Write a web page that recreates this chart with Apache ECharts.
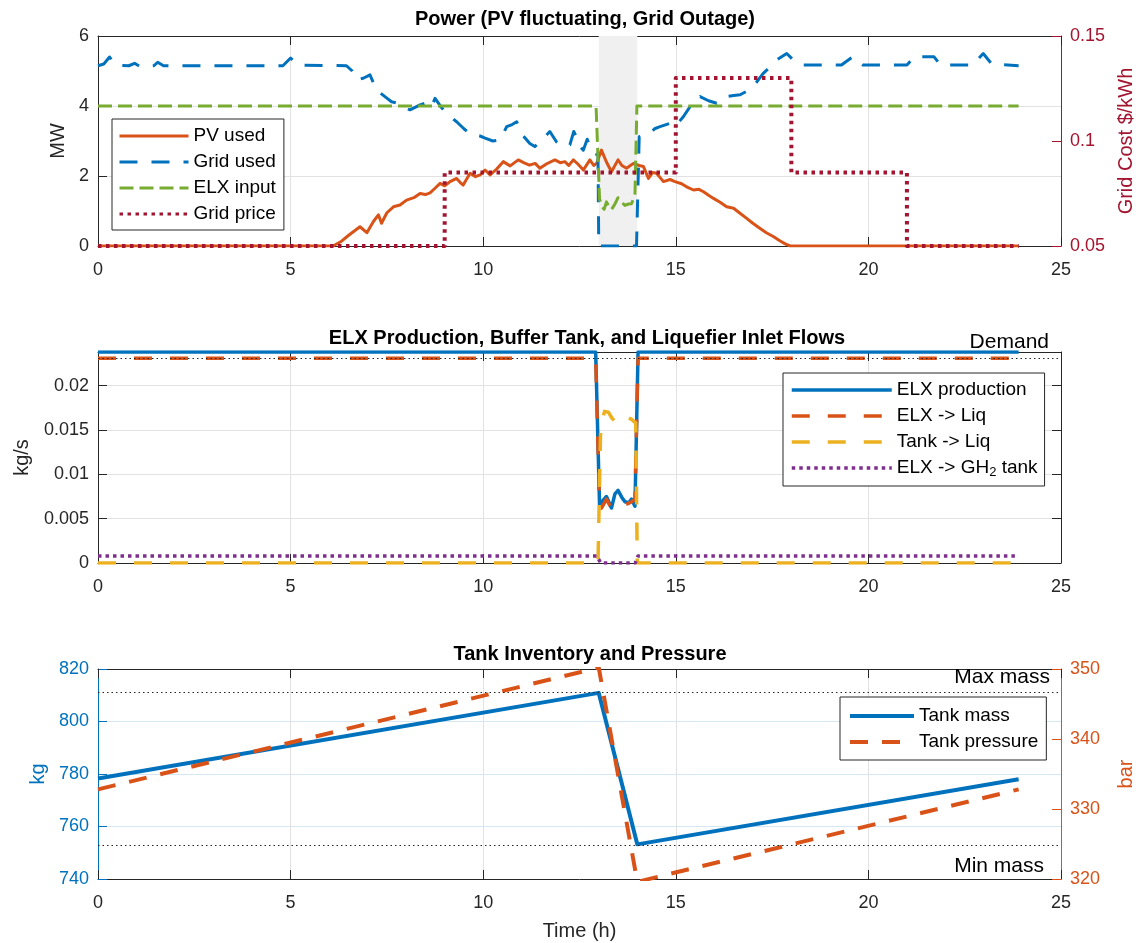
<!DOCTYPE html>
<html>
<head>
<meta charset="utf-8">
<script src="https://cdn.jsdelivr.net/npm/echarts@6/dist/echarts.min.js"></script>
<style>
html,body{margin:0;padding:0;background:#fff;}
#chart{width:1141px;height:943px;}
</style>
</head>
<body>
<div id="chart"></div>
<script>
// ---------------- DATA ----------------
// Panel 1: Power
const outageWindow = [13, 14];
const pvTime = [0, 6.1, 6.3, 6.5, 6.8, 6.98, 7.15, 7.28, 7.36, 7.5, 7.67, 7.84, 8.01, 8.2, 8.36, 8.5, 8.62, 8.75, 8.88, 9.0, 9.14, 9.31, 9.4, 9.48, 9.66, 9.8, 9.92, 10.05, 10.18, 10.35, 10.52, 10.7, 10.91, 11.05, 11.2, 11.35, 11.47, 11.65, 11.86, 12.0, 12.12, 12.22, 12.34, 12.45, 12.6, 12.77, 12.87, 12.95, 13.07, 13.2, 13.33, 13.5, 13.6, 13.72, 13.9, 14.05, 14.16, 14.29, 14.4, 14.5, 14.68, 14.85, 14.98, 15.15, 15.28, 15.46, 15.6, 15.72, 15.85, 15.98, 16.15, 16.32, 16.5, 16.65, 16.84, 17.0, 17.19, 17.35, 17.53, 17.7, 17.84, 17.97, 23.9];
const pvUsed = [0, 0, 0.12, 0.3, 0.55, 0.38, 0.7, 0.89, 0.65, 0.95, 1.12, 1.17, 1.31, 1.38, 1.5, 1.47, 1.52, 1.65, 1.79, 1.72, 1.84, 1.93, 1.82, 1.74, 2.08, 1.98, 2.03, 2.17, 2.03, 2.2, 2.41, 2.29, 2.46, 2.38, 2.31, 2.36, 2.22, 2.35, 2.46, 2.38, 2.41, 2.3, 2.46, 2.35, 2.17, 2.46, 2.3, 2.37, 2.74, 2.4, 2.12, 2.46, 2.3, 2.22, 2.36, 2.3, 2.27, 1.93, 2.1, 2.08, 1.84, 1.9, 1.84, 1.78, 1.69, 1.6, 1.62, 1.55, 1.45, 1.36, 1.25, 1.12, 1.08, 0.95, 0.79, 0.65, 0.5, 0.38, 0.27, 0.15, 0.06, 0, 0];
const gridTime = [0, 0.15, 0.3, 0.45, 0.8, 0.95, 1.1, 1.45, 1.55, 1.7, 4.8, 5.0, 5.2, 6.45, 6.6, 6.72, 6.9, 7.06, 7.23, 7.49, 7.62, 7.8, 7.95, 8.1, 8.36, 8.55, 8.66, 8.75, 8.9, 9.05, 9.31, 9.5, 9.7, 9.9, 10.05, 10.25, 10.44, 10.61, 10.75, 10.87, 11.0, 11.21, 11.34, 11.5, 11.73, 11.9, 12.08, 12.25, 12.35, 12.42, 12.5, 12.6, 12.7, 12.8, 12.9, 12.98, 13.0, 13.98, 14.05, 14.33, 14.45, 14.59, 14.84, 14.98, 15.2, 15.37, 15.63, 15.85, 16.06, 16.32, 16.5, 16.67, 16.97, 17.27, 17.45, 17.6, 17.88, 18.14, 18.3, 19.3, 19.6, 19.86, 21.0, 21.2, 21.7, 21.87, 22.7, 22.98, 23.2, 23.9];
const gridUsed = [5.15, 5.2, 5.4, 5.17, 5.15, 5.22, 5.12, 5.15, 5.25, 5.15, 5.15, 5.37, 5.17, 5.15, 5.0, 4.74, 4.8, 4.89, 4.46, 4.23, 4.12, 4.08, 3.95, 3.89, 4.03, 4.1, 3.98, 4.22, 3.98, 3.79, 3.55, 3.35, 3.17, 3.15, 3.08, 3.0, 3.03, 3.41, 3.47, 3.55, 3.2, 2.93, 2.84, 3.0, 3.27, 2.98, 2.84, 2.89, 3.27, 3.12, 2.85, 2.74, 3.05, 2.75, 2.64, 2.6, 0, 0, 3.12, 3.22, 3.35, 3.41, 3.5, 3.41, 3.7, 3.98, 4.27, 4.15, 4.08, 4.27, 4.3, 4.32, 4.5, 4.93, 5.12, 5.3, 5.5, 5.22, 5.17, 5.17, 5.41, 5.17, 5.17, 5.41, 5.41, 5.17, 5.17, 5.5, 5.2, 5.15];
const elxInTime = [0, 12.93, 13.02, 13.07, 13.14, 13.2, 13.27, 13.33, 13.42, 13.5, 13.6, 13.68, 13.77, 13.85, 13.94, 13.99, 23.9];
const elxInput = [4, 4, 1.35, 1.15, 1.05, 1.26, 1.12, 1.04, 1.2, 1.38, 1.25, 1.16, 1.2, 1.21, 1.45, 4, 4];
const priceTime = [0, 9, 9, 15, 15, 18, 18, 21, 21, 23.9];
const gridPrice = [0.05, 0.05, 0.085, 0.085, 0.13, 0.13, 0.085, 0.085, 0.05, 0.05];

// Panel 2: Flows (kg/s)
const prodTime = [0, 12.92, 13.02, 13.07, 13.2, 13.33, 13.42, 13.5, 13.6, 13.68, 13.78, 13.85, 13.94, 14.02, 23.9];
const elxProduction = [0.0238, 0.0238, 0.0066, 0.0064, 0.0075, 0.0062, 0.0078, 0.0082, 0.0074, 0.0069, 0.0068, 0.0072, 0.0064, 0.0238, 0.0238];
const liqTime = [0, 12.92, 13.02, 13.07, 13.15, 13.2, 13.3, 13.45, 13.55, 13.7, 13.85, 13.94, 14.02, 23.9];
const elxToLiq = [0.0231, 0.0231, 0.0065, 0.0062, 0.0068, 0.0072, 0.0064, 0.0068, 0.0069, 0.0066, 0.0069, 0.0072, 0.0231, 0.0231];
const tankLiqTime = [0, 12.98, 13.05, 13.15, 13.25, 13.35, 13.46, 13.6, 13.72, 13.85, 13.96, 14.0, 23.9];
const tankToLiq = [0, 0, 0.0154, 0.0171, 0.017, 0.0163, 0.0158, 0.0162, 0.0165, 0.0162, 0.0158, 0, 0];
const gh2Time = [0, 12.95, 13.05, 13.95, 14.02, 23.9];
const elxToGH2 = [0.0008, 0.0008, 0, 0, 0.0008, 0.0008];
const demandFlow = 0.0231;

// Panel 3: Tank
const tankTime = [0, 13, 14, 23.9];
const tankMass = [778.3, 810.9, 753.2, 778];
const tankPressure = [332.8, 350.2, 319.6, 332.8];
const maxMass = 811;
const minMass = 753;

// Axis ranges [min, max, interval]
const timeRange = [0, 25, 5];
const powerRange = [0, 6, 2];
const priceRange = [0.05, 0.15, 0.05];
const flowRange = [0, 0.0238, 0.005];
const massRange = [740, 820, 20];
const pressureRange = [320, 350, 10];

// ---------------- STYLE ----------------
const FONT = '"Liberation Sans", Arial, Helvetica, sans-serif';
const C = {blue:'#0072BD', orange:'#D95319', yellow:'#EDB120', purple:'#7E2F8E', green:'#77AC30', red:'#A2142F', axis:'#262626', grid:'#e2e2e2', gridBlue:'#d6e7f4'};
const grids = [
  {left:98, right:80, top:36, height:210, outerBoundsMode:'none', containLabel:false},
  {left:98, right:80, top:352, height:211, outerBoundsMode:'none', containLabel:false},
  {left:98, right:80, top:669, height:210, outerBoundsMode:'none', containLabel:false}
];
function pairs(t, v){ return t.map((x,i)=>[x, v[i]]); }

function xBottom(g, extra){
  return Object.assign({type:'value', gridIndex:g, position:'bottom', min:timeRange[0], max:timeRange[1], interval:timeRange[2],
    axisLine:{show:true, onZero:false, lineStyle:{color:C.axis, width:1}},
    axisTick:{show:true, inside:true, length:9, lineStyle:{color:C.axis}},
    axisLabel:{fontSize:18, color:C.axis, margin:15, fontFamily:FONT},
    splitLine:{show:true, lineStyle:{color:C.grid, width:1}}}, extra||{});
}
function xTop(g){
  return {type:'value', gridIndex:g, position:'top', min:timeRange[0], max:timeRange[1], interval:timeRange[2],
    axisLine:{show:true, onZero:false, lineStyle:{color:C.axis, width:1}},
    axisTick:{show:true, inside:true, length:9, lineStyle:{color:C.axis}},
    axisLabel:{show:false}, splitLine:{show:false}};
}
function yAxis(g, pos, range, color, name, gap, split, splitColor, labelsOn){
  const ratio = range[1] / range[2];
  return {type:'value', gridIndex:g, position:pos, min:range[0], max:range[1], interval:range[2],
    name:name||'', nameLocation:'middle', nameRotate:90, nameGap:gap||0,
    nameTextStyle:{fontSize:20, color:color, fontFamily:FONT},
    axisLine:{show:true, onZero:false, lineStyle:{color:color, width:1}},
    axisTick:{show:true, inside:true, length:9, lineStyle:{color:color}},
    axisLabel:{show:labelsOn!==false, fontSize:18, color:color, margin:9, fontFamily:FONT,
      showMaxLabel: Math.abs(ratio - Math.round(ratio)) < 1e-6},
    splitLine:{show:!!split, lineStyle:{color:splitColor||C.grid, width:1}}};
}
function lineSeries(name, xi, yi, data, color, width, type, extra){
  return Object.assign({name:name, type:'line', xAxisIndex:xi, yAxisIndex:yi, data:data, symbol:'none',
    animation:false, lineStyle:{color:color, width:width, type:type||'solid', cap:'butt', join:'round'},
    itemStyle:{color:color}}, extra||{});
}
function legendCfg(names, left, top, itemWidth, pad, lw){
  return {data:names, orient:'vertical', left:left, top:top, itemWidth:itemWidth, itemHeight:14, itemGap:6,
    padding:pad, backgroundColor:'#fff', borderColor:'#262626', borderWidth:1, borderRadius:0,
    itemStyle:{opacity:0}, lineStyle:{width:lw},
    textStyle:{fontSize:19, color:'#000', fontFamily:FONT, lineHeight:20,
      rich:{sub:{fontSize:13, fontFamily:FONT, color:'#000', padding:[9,0,0,0]}}},
    formatter:function(n){ return n === 'ELX -> GH2 tank' ? 'ELX -> GH{sub|2} tank' : n; },
    selectedMode:false};
}
const dotted = [1.5, 3];
function refLabel(text, pos, dist){
  return {show:true, position:pos, distance:dist, formatter:text, fontSize:21, color:'#000', fontFamily:FONT, padding:[0,6,0,0]};
}

const option = {
  backgroundColor:'#fff',
  animation:false,
  textStyle:{fontFamily:FONT},
  title:[
    {text:'Power (PV fluctuating, Grid Outage)', left:580, top:4, textAlign:'center', textStyle:{fontSize:20, fontWeight:'bold', color:'#000', fontFamily:FONT}},
    {text:'ELX Production, Buffer Tank, and Liquefier Inlet Flows', left:582, top:323, textAlign:'center', textStyle:{fontSize:20, fontWeight:'bold', color:'#000', fontFamily:FONT}},
    {text:'Tank Inventory and Pressure', left:585, top:639, textAlign:'center', textStyle:{fontSize:20, fontWeight:'bold', color:'#000', fontFamily:FONT}}
  ],
  grid:grids,
  xAxis:[
    xBottom(0), xTop(0),
    xBottom(1), xTop(1),
    xBottom(2, {name:'Time (h)', nameLocation:'middle', nameGap:42, nameTextStyle:{fontSize:20, color:C.axis, fontFamily:FONT}}), xTop(2)
  ],
  yAxis:[
    yAxis(0, 'left', powerRange, C.axis, 'MW', 22, true),
    yAxis(0, 'right', priceRange, C.red, 'Grid Cost $/kWh', 55, false),
    yAxis(1, 'left', flowRange, C.axis, 'kg/s', 66, true),
    yAxis(1, 'right', flowRange, C.axis, '', 0, false, null, false),
    yAxis(2, 'left', massRange, C.blue, 'kg', 48, true, C.gridBlue),
    yAxis(2, 'right', pressureRange, C.orange, 'bar', 55, false)
  ],
  legend:[
    legendCfg(['PV used','Grid used','ELX input','Grid price'], 112, 119, 69, [7,8,6,6], 3),
    legendCfg(['ELX production','ELX -> Liq','Tank -> Liq','ELX -> GH2 tank'], 783, 373, 100, [7,7,7,7], 3.5),
    legendCfg(['Tank mass','Tank pressure'], 840, 697, 64, [9,8,8,8], 4)
  ],
  series:[
    lineSeries('PV used', 0, 0, pairs(pvTime, pvUsed), C.orange, 3, 'solid', {
      markArea:{silent:true, itemStyle:{color:'#f0f0f0', opacity:1}, data:[[{xAxis:outageWindow[0]},{xAxis:outageWindow[1]}]]}, z:3}),
    lineSeries('Grid used', 0, 0, pairs(gridTime, gridUsed), C.blue, 3, [18,14], {z:4}),
    lineSeries('ELX input', 0, 0, pairs(elxInTime, elxInput), C.green, 3, [14,6], {z:5}),
    lineSeries('Grid price', 0, 1, pairs(priceTime, gridPrice), C.red, 4, [3.5,4.5], {z:6}),

    lineSeries('ELX production', 2, 2, pairs(prodTime, elxProduction), C.blue, 3.5, 'solid'),
    lineSeries('ELX -> Liq', 2, 2, pairs(liqTime, elxToLiq), C.orange, 3.5, [18,18]),
    lineSeries('Tank -> Liq', 2, 2, pairs(tankLiqTime, tankToLiq), C.yellow, 3.5, [18,18]),
    lineSeries('ELX -> GH2 tank', 2, 2, pairs(gh2Time, elxToGH2), C.purple, 3.5, [3.5,4], {
      markLine:{silent:true, symbol:['none','none'], animation:false, precision:6,
        lineStyle:{color:C.axis, width:1, type:dotted},
        label:refLabel('Demand', 'insideEndTop', 6),
        data:[{yAxis:demandFlow}]}}),

    lineSeries('Tank mass', 4, 4, pairs(tankTime, tankMass), C.blue, 4, 'solid', {
      markLine:{silent:true, symbol:['none','none'], animation:false, precision:3,
        lineStyle:{color:C.axis, width:1, type:dotted},
        data:[
          {yAxis:maxMass, label:refLabel('Max mass', 'insideEndTop', 5)},
          {yAxis:minMass, label:refLabel('Min mass', 'insideEndBottom', 11)}
        ]}}),
    lineSeries('Tank pressure', 4, 5, pairs(tankTime, tankPressure), C.orange, 4, [18,14])
  ]
};
const chart = echarts.init(document.getElementById('chart'), null, {renderer:'canvas', width:1141, height:943});
chart.setOption(option);
</script>
</body>
</html>
